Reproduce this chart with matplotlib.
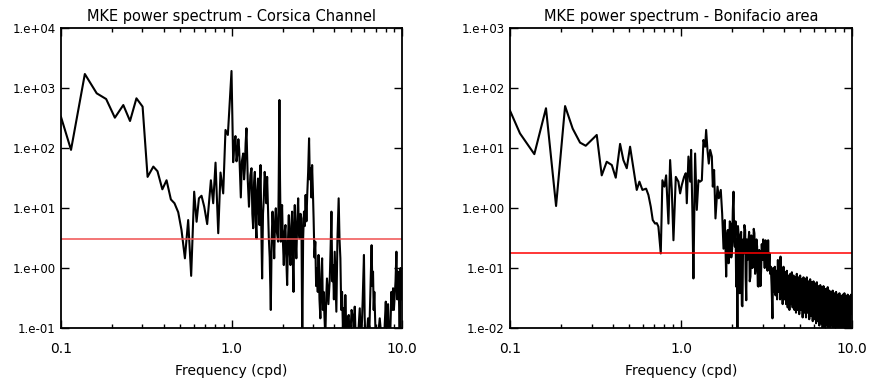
import numpy as np
import matplotlib
matplotlib.use("Agg")
import matplotlib.pyplot as plt
from matplotlib.ticker import FixedLocator, FuncFormatter, NullLocator

# MKE spectrum, Corsica Channel (freq in cpd, power)
cc_freq = [0.1, 0.1145, 0.138, 0.162, 0.184, 0.207, 0.232, 0.254, 0.277, 0.301,
           0.322, 0.348, 0.368, 0.393, 0.416, 0.441, 0.463, 0.487, 0.509, 0.533,
           0.557, 0.580, 0.604, 0.624, 0.644, 0.667, 0.692, 0.720, 0.757, 0.781,
           0.806, 0.836, 0.862, 0.894, 0.922, 0.952, 1.0, 1.012, 1.023, 1.04,
           1.055, 1.07, 1.084, 1.097, 1.109, 1.12, 1.134, 1.15, 1.171, 1.185,
           1.197, 1.21, 1.224, 1.245, 1.266, 1.29, 1.31, 1.325, 1.34, 1.355,
           1.37, 1.385, 1.401, 1.415, 1.43, 1.445, 1.46, 1.47, 1.48, 1.495,
           1.512, 1.53, 1.547, 1.565, 1.581, 1.6, 1.618, 1.636, 1.655, 1.675,
           1.70, 1.72, 1.74, 1.76, 1.78, 1.80, 1.819, 1.845, 1.876, 1.89,
           1.91, 1.925, 1.945, 1.96, 1.98, 2.0, 2.026, 2.05, 2.072, 2.095,
           2.12, 2.145, 2.168, 2.19, 2.217, 2.24, 2.267, 2.29, 2.31, 2.33,
           2.35, 2.375, 2.40, 2.43, 2.46, 2.485, 2.51, 2.54, 2.57, 2.60,
           2.63, 2.66, 2.69, 2.72, 2.75, 2.78, 2.815, 2.85, 2.88, 2.91,
           2.94, 2.97, 3.0, 3.03, 3.065, 3.10, 3.135, 3.17, 3.205, 3.24,
           3.28, 3.32, 3.36, 3.40, 3.435, 3.47, 3.51, 3.55, 3.59, 3.63,
           3.70, 3.77, 3.81, 3.855, 3.90, 3.94, 3.985, 4.03, 4.075, 4.12,
           4.18, 4.25, 4.30, 4.35, 4.40, 4.45, 4.50, 4.55, 4.60, 4.65,
           4.70, 4.76, 4.81, 4.87, 4.92, 4.97, 5.06, 5.16, 5.22, 5.28,
           5.34, 5.40, 5.52, 5.65, 5.72, 5.78, 5.88, 5.98, 6.04, 6.09,
           6.2, 6.32, 6.44, 6.55, 6.63, 6.70, 6.76, 6.82, 6.88, 6.98,
           7.07, 7.23, 7.40, 7.57, 7.74, 7.9, 8.03, 8.12, 8.2, 8.28,
           8.38, 8.52, 8.66, 8.76, 8.86, 8.96, 9.06, 9.16, 9.27, 9.38,
           9.48, 9.58, 9.69, 9.8, 9.91, 10.0]
cc_power = [330, 93, 1710, 815, 655, 320, 520, 282, 673, 489,
            33, 49, 41, 20.5, 29, 13.9, 12, 8.5, 4.3, 1.45,
            6.3, 0.74, 18.7, 5.9, 14.5, 16, 10.5, 5.4, 29, 12,
            57, 3.8, 39, 17.5, 200, 165, 1920, 300, 58, 120,
            158, 60, 81, 140, 95, 40, 15, 60, 81, 30,
            45, 120, 213, 30, 10.5, 35, 46, 8, 4.6, 25,
            40, 6, 3.1, 20, 31, 9, 5.2, 30, 52, 5,
            0.67, 8, 14.5, 40, 27.5, 12, 33, 10, 3.1, 1.5,
            0.2, 3, 8.7, 4, 1.45, 6, 9.9, 4, 2.75, 20,
            631, 30, 2.75, 6, 11.2, 3, 1.12, 4, 5.2, 1.5,
            0.52, 3, 7.6, 2, 1.12, 5, 8.7, 1.2, 0.4, 4,
            11.2, 3, 1.45, 6, 14.5, 4, 3.1, 8, 6.7, 0.05,
            3, 8.7, 5, 16.5, 6, 16.5, 40, 145, 30, 46,
            15, 52, 20, 6.7, 1.5, 2.75, 0.5, 0.99, 0.4, 1.65,
            0.3, 0.145, 0.8, 1.45, 0.2, 0.4, 0.15, 0.07, 0.3, 0.67,
            0.25, 0.67, 2, 8.7, 0.6, 1.12, 0.3, 1.87, 0.6, 0.187,
            3, 14.5, 3, 1.45, 0.2, 0.4, 0.1, 0.213, 0.07, 0.355,
            0.12, 0.07, 0.15, 0.165, 0.07, 0.07, 0.2, 0.145, 0.07, 0.227,
            0.08, 0.07, 0.07, 0.213, 0.07, 0.07, 0.3, 1.65, 0.15, 0.07,
            0.07, 0.145, 0.1, 0.67, 2.4, 0.5, 0.87, 0.2, 0.4, 0.1,
            0.07, 0.07, 0.145, 0.07, 0.07, 0.1, 0.275, 0.1, 0.165, 0.25,
            0.07, 0.07, 0.4, 0.2, 0.46, 0.2, 0.355, 0.6, 1.87, 0.3,
            0.87, 0.4, 0.07, 1.0, 0.52, 0.3]
cc_level = 3.0

# MKE spectrum, Bonifacio area
bf_freq = [0.1, 0.1144, 0.1388, 0.1624, 0.186, 0.21, 0.2327, 0.2569, 0.2773, 0.3217,
           0.344, 0.368, 0.394, 0.4155, 0.4405, 0.4605, 0.482, 0.504, 0.527, 0.5514,
           0.5715, 0.5953, 0.6254, 0.6452, 0.666, 0.684, 0.7062, 0.722, 0.738, 0.762,
           0.779, 0.8, 0.819, 0.845, 0.8643, 0.884, 0.904, 0.933, 0.966, 0.989,
           1.011, 1.043, 1.067, 1.082, 1.106, 1.132, 1.147, 1.167, 1.183, 1.21,
           1.238, 1.266, 1.294, 1.325, 1.354, 1.385, 1.404, 1.429, 1.455, 1.482,
           1.516, 1.536, 1.563, 1.592, 1.636, 1.666, 1.71, 1.742, 1.774, 1.806,
           1.839, 1.86, 1.88, 1.90, 1.914, 1.93, 1.95, 1.97, 1.993, 2.01,
           2.03, 2.05, 2.066, 2.085, 2.104, 2.12, 2.14, 2.155, 2.171, 2.19,
           2.21, 2.23, 2.25, 2.27, 2.29, 2.31, 2.332, 2.35, 2.375, 2.39,
           2.41, 2.43, 2.45, 2.475, 2.505, 2.525, 2.55, 2.575, 2.597, 2.62,
           2.645, 2.665, 2.69, 2.715, 2.74, 2.765, 2.79, 2.815, 2.843, 2.87,
           2.89, 2.92, 2.945, 2.97, 3.0, 3.025, 3.05, 3.09, 3.124, 3.15,
           3.18, 3.21, 3.236, 3.265, 3.296, 3.325, 3.356, 3.39, 3.43, 3.46,
           3.5, 3.54, 3.575, 3.61, 3.65, 3.69, 3.72, 3.77, 3.80, 3.823,
           3.86, 3.89, 3.935, 3.98, 4.02, 4.07, 4.12, 4.165, 4.21, 4.26,
           4.31, 4.36, 4.41, 4.455, 4.5, 4.556, 4.61, 4.66, 4.71, 4.76,
           4.81, 4.87, 4.92, 4.98, 5.04, 5.1, 5.15, 5.21, 5.27, 5.33,
           5.39, 5.45, 5.51, 5.57, 5.63, 5.7, 5.76, 5.83, 5.9, 5.96,
           6.03, 6.1, 6.17, 6.24, 6.31, 6.38, 6.45, 6.53, 6.6, 6.67,
           6.74, 6.82, 6.9, 6.98, 7.06, 7.14, 7.22, 7.3, 7.38, 7.47,
           7.55, 7.64, 7.72, 7.81, 7.9, 7.99, 8.08, 8.17, 8.26, 8.36,
           8.45, 8.55, 8.64, 8.74, 8.84, 8.94, 9.04, 9.15, 9.25, 9.35,
           9.45, 9.56, 9.67, 9.78, 9.89, 10.0]
bf_power = [42, 17.5, 7.9, 46, 1.08, 50, 21, 12.3, 10.9, 16.5,
            3.5, 5.9, 5.2, 3.2, 11.7, 6.3, 4.6, 10.5, 4.6, 2.0,
            2.75, 2.0, 2.1, 1.65, 1.05, 0.63, 0.55, 0.56, 0.49, 0.175,
            2.9, 2.27, 3.5, 0.55, 6.3, 2.0, 0.29, 3.3, 2.75, 1.75,
            2.4, 3.3, 3.8, 1.2, 7.2, 2.75, 9.3, 0.81, 0.067, 8.1,
            0.93, 2.9, 2.75, 2.9, 13.6, 10.5, 20, 9.3, 5.5, 9.3,
            7.2, 2.27, 4.3, 0.67, 2.27, 1.45, 2.0, 0.81, 0.21, 0.63,
            0.072, 0.35, 0.43, 0.12, 0.2, 0.6, 0.55, 0.15, 0.21, 0.9,
            1.87, 0.3, 0.227, 0.6, 0.049, 0.3, 0.005, 0.5, 0.38, 0.06,
            0.038, 0.35, 0.4, 0.024, 0.023, 0.3, 0.175, 0.52, 0.43, 0.07,
            0.029, 0.3, 0.136, 0.25, 0.4, 0.06, 0.072, 0.35, 0.33, 0.1,
            0.175, 0.45, 0.38, 0.08, 0.105, 0.3, 0.227, 0.05, 0.049, 0.2,
            0.155, 0.05, 0.093, 0.25, 0.136, 0.3, 0.21, 0.1, 0.29, 0.12,
            0.2, 0.09, 0.29, 0.1, 0.175, 0.08, 0.105, 0.05, 0.0145, 0.1,
            0.04, 0.105, 0.035, 0.09, 0.03, 0.136, 0.04, 0.128, 0.03, 0.155,
            0.035, 0.08, 0.025, 0.105, 0.03, 0.085, 0.025, 0.09, 0.022, 0.075,
            0.02, 0.08, 0.025, 0.085, 0.022, 0.075, 0.02, 0.07, 0.018, 0.08,
            0.02, 0.07, 0.017, 0.075, 0.02, 0.065, 0.015, 0.07, 0.018, 0.065,
            0.015, 0.07, 0.018, 0.06, 0.014, 0.065, 0.016, 0.058, 0.013, 0.06,
            0.014, 0.055, 0.012, 0.058, 0.013, 0.05, 0.011, 0.052, 0.012, 0.048,
            0.01, 0.05, 0.011, 0.007, 0.045, 0.011, 0.048, 0.01, 0.042, 0.009,
            0.04, 0.011, 0.042, 0.007, 0.038, 0.009, 0.04, 0.01, 0.036, 0.008,
            0.038, 0.009, 0.034, 0.007, 0.036, 0.009, 0.038, 0.008, 0.034, 0.007,
            0.036, 0.007, 0.034, 0.008, 0.036, 0.0175]
bf_level = 0.175

panels = [
    ("MKE power spectrum - Corsica Channel", cc_freq, cc_power, cc_level, (1e-1, 1e4), "#f05050"),
    ("MKE power spectrum - Bonifacio area", bf_freq, bf_power, bf_level, (1e-2, 1e3), "#ff0000"),
]
x_ticks = [0.1, 1.0, 10.0]
x_labels = ["0.1", "1.0", "10.0"]

fig = plt.figure(figsize=(8.7, 3.84), dpi=100)
ax_rects = [[0.0701, 0.1458, 0.392, 0.7813], [0.5862, 0.1458, 0.393, 0.7813]]


def exp_fmt(v, pos):
    return "1.e%+03d" % int(round(np.log10(v)))


for rect, (title, f, p, lev, ylim, rc) in zip(ax_rects, panels):
    ax = fig.add_axes(rect)
    ax.plot(f, p, color="black", lw=1.5)
    ax.axhline(lev, color=rc, lw=1.1)
    ax.set_xscale("log")
    ax.set_yscale("log")
    ax.set_xlim(0.1, 10.0)
    ax.set_ylim(*ylim)
    ax.xaxis.set_major_locator(FixedLocator(x_ticks))
    ax.set_xticklabels(x_labels)
    ax.xaxis.set_minor_locator(FixedLocator([k * d for d in (0.1, 1.0) for k in range(2, 10)]))
    ax.yaxis.set_major_locator(FixedLocator([10.0 ** e for e in range(int(np.log10(ylim[0])), int(np.log10(ylim[1])) + 1)]))
    ax.yaxis.set_major_formatter(FuncFormatter(exp_fmt))
    ax.yaxis.set_minor_locator(NullLocator())
    ax.tick_params(which="both", direction="in", top=True, right=True, width=1.0)
    ax.tick_params(which="major", length=6)
    ax.tick_params(which="minor", length=3)
    ax.tick_params(axis="x", labelsize=10, pad=10)
    ax.tick_params(axis="y", labelsize=8.5, pad=4)
    for s in ax.spines.values():
        s.set_linewidth(1.3)
    ax.set_title(title, fontsize=10.5, pad=5)
    ax.set_xlabel("Frequency (cpd)", fontsize=10, labelpad=6)

fig.savefig("out.png", dpi=100)
